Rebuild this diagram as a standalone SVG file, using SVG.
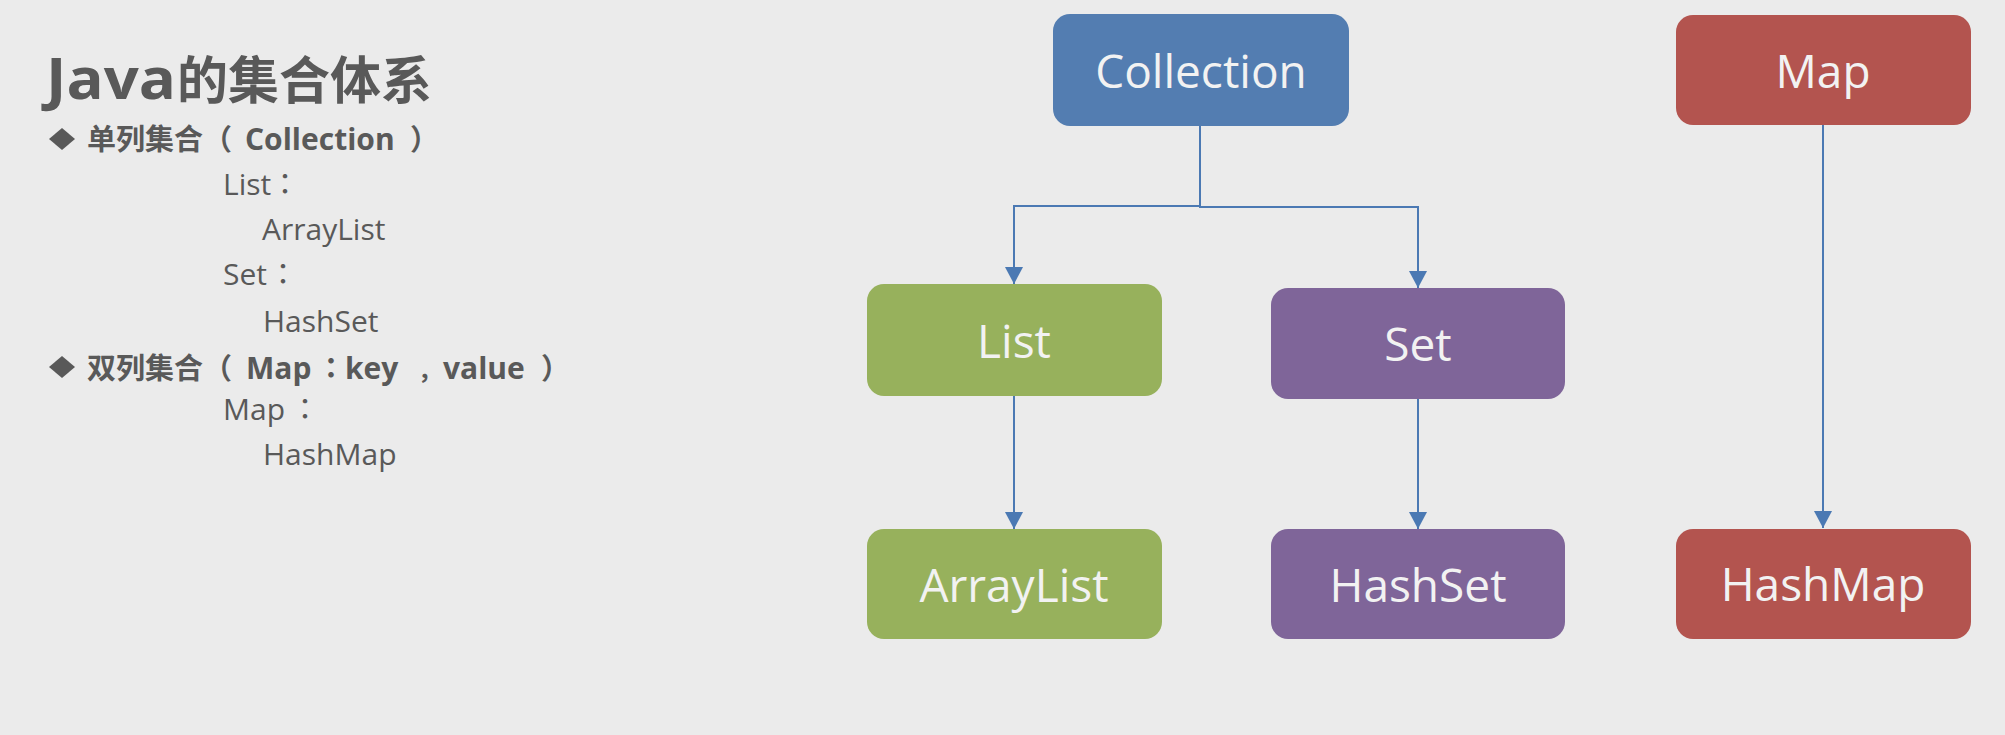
<svg xmlns="http://www.w3.org/2000/svg" width="2005" height="735" viewBox="0 0 2005 735">
<defs>
<style>
.bg{fill:#ebebeb}
.node-label{font-family:"Open Sans","Noto Sans",sans-serif;font-size:46px;fill:#f2f2f2;text-anchor:middle}
.blue{fill:#537db1}
.green{fill:#97b15c}
.purple{fill:#7f6599}
.red{fill:#b3544f}
.conn{fill:none;stroke:#4b79b3;stroke-width:2;marker-end:url(#arr)}
.title{font-family:"Open Sans","Noto Sans CJK SC",sans-serif;font-weight:bold;fill:#595959}
.cjk{font-family:"Noto Sans CJK SC",sans-serif}
.colon{font-family:"Noto Sans CJK TC",sans-serif;font-size:29px;text-anchor:middle}
.bul{font-family:"Open Sans","Noto Sans CJK SC",sans-serif;font-weight:bold;font-size:30px;fill:#595959}
.sub{font-family:"Open Sans","Noto Sans CJK SC",sans-serif;font-size:30px;fill:#595959}
.dia{fill:#595959}
</style>
<marker id="arr" markerUnits="userSpaceOnUse" markerWidth="17" markerHeight="18" viewBox="0 0 17 18" refX="17" refY="9" orient="auto">
<path d="M0,0 L17,9 L0,18 z" fill="#4b79b3"/>
</marker>
</defs>
<rect class="bg" x="0" y="0" width="2005" height="735"/>

<g id="left-text">
<text class="title" x="46" y="99"><tspan font-size="57" textLength="130" lengthAdjust="spacingAndGlyphs">Java</tspan><tspan class="cjk" x="177" font-size="51">的集合体系</tspan></text>
<polygon class="dia" points="62,128 75,139 62,150 49,139"/>
<text class="bul" y="150"><tspan class="cjk" x="87" font-size="29">单列集合（</tspan><tspan x="245">Collection</tspan><tspan class="cjk" x="410" font-size="29">）</tspan></text>
<text class="sub" x="223" y="195">List<tspan class="colon" x="285">：</tspan></text>
<text class="sub" x="262" y="240">ArrayList</text>
<text class="sub" x="223" y="285">Set<tspan class="colon" x="283">：</tspan></text>
<text class="sub" x="263" y="332">HashSet</text>
<polygon class="dia" points="62,356 75,367 62,378 49,367"/>
<text class="bul" y="379"><tspan class="cjk" x="87" font-size="29">双列集合（</tspan><tspan x="246">Map</tspan><tspan class="colon" x="331">：</tspan><tspan x="345">key</tspan><tspan class="cjk" x="418" font-size="24">，</tspan><tspan x="443">value</tspan><tspan class="cjk" x="541" font-size="29">）</tspan></text>
<text class="sub" x="223" y="420">Map<tspan class="colon" x="305">：</tspan></text>
<text class="sub" x="263" y="465">HashMap</text>
</g>

<g id="connectors">
<path class="conn" d="M1200,126 V206 H1014 V284"/>
<path class="conn" d="M1200,206 V207 H1418 V288"/>
<path class="conn" d="M1014,396 V529"/>
<path class="conn" d="M1418,399 V529"/>
<path class="conn" d="M1823,125 V528"/>
</g>

<g id="node-collection">
<rect class="blue" x="1053" y="14" width="296" height="112" rx="17"/>
<text class="node-label" x="1201" y="88">Collection</text>
</g>
<g id="node-map">
<rect class="red" x="1676" y="15" width="295" height="110" rx="17"/>
<text class="node-label" x="1823" y="88">Map</text>
</g>
<g id="node-list">
<rect class="green" x="867" y="284" width="295" height="112" rx="17"/>
<text class="node-label" x="1014" y="358">List</text>
</g>
<g id="node-set">
<rect class="purple" x="1271" y="288" width="294" height="111" rx="17"/>
<text class="node-label" x="1418" y="361">Set</text>
</g>
<g id="node-arraylist">
<rect class="green" x="867" y="529" width="295" height="110" rx="17"/>
<text class="node-label" x="1014" y="602">ArrayList</text>
</g>
<g id="node-hashset">
<rect class="purple" x="1271" y="529" width="294" height="110" rx="17"/>
<text class="node-label" x="1418" y="602">HashSet</text>
</g>
<g id="node-hashmap">
<rect class="red" x="1676" y="529" width="295" height="110" rx="17"/>
<text class="node-label" x="1823" y="601">HashMap</text>
</g>
</svg>
